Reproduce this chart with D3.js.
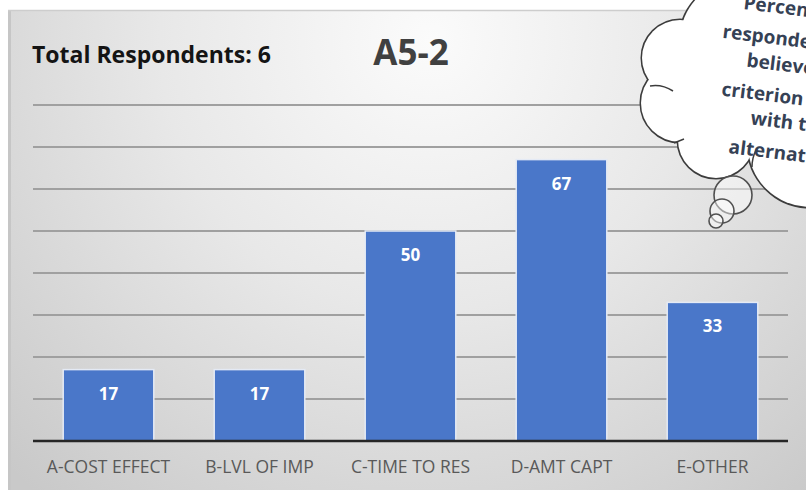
<!DOCTYPE html>
<html><head><meta charset="utf-8">
<script src="https://cdn.jsdelivr.net/npm/d3@7"></script>
<style>html,body{margin:0;padding:0;background:#fff}svg{display:block}</style>
</head><body>
<script>
// Survey item A5-2: share of respondents (%) per criterion
const categories = ["A-COST EFFECT", "B-LVL OF IMP", "C-TIME TO RES", "D-AMT CAPT", "E-OTHER"];
const values = [17, 17, 50, 67, 33];
const yTicks = [10, 20, 30, 40, 50, 60, 70, 80];
const totalLabel = "Total Respondents: 6";
const chartTitle = "A5-2";
const noteLines = ["Percentage of", "respondents who", "believe", "criterion fits", "with the", "alternatives"];

const W = 806, H = 490;
const plot = {left: 33, right: 788, top: 105, bottom: 441};

const svg = d3.select("body").append("svg").attr("width", W).attr("height", H);
const defs = svg.append("defs");

// chart-area background: soft grey radial shading
const bg = defs.append("radialGradient").attr("id", "bgGrad")
  .attr("gradientUnits", "userSpaceOnUse")
  .attr("cx", 430).attr("cy", 40).attr("r", 600);
bg.append("stop").attr("offset", 0).attr("stop-color", "#fbfbfb");
bg.append("stop").attr("offset", 0.45).attr("stop-color", "#e8e8e8");
bg.append("stop").attr("offset", 1).attr("stop-color", "#c9c9c9");

svg.append("rect").attr("x", 8).attr("y", 10).attr("width", W - 8).attr("height", H - 10)
  .attr("fill", "url(#bgGrad)");
svg.append("rect").attr("x", 8).attr("y", 10).attr("width", 3).attr("height", H - 10)
  .attr("fill", "#c6c6c6");
svg.append("line").attr("x1", 8).attr("x2", W).attr("y1", 10.5).attr("y2", 10.5)
  .attr("stroke", "#cdcdcd").attr("stroke-width", 1.5);

const x = d3.scaleBand().domain(categories).range([plot.left, plot.right])
  .paddingInner(0.4).paddingOuter(0.2);
const y = d3.scaleLinear().domain([0, 80]).range([plot.bottom, plot.top]);

// horizontal gridlines
svg.append("g").selectAll("line").data(yTicks).join("line")
  .attr("x1", plot.left).attr("x2", plot.right)
  .attr("y1", d => y(d)).attr("y2", d => y(d))
  .attr("stroke", "#a0a0a0").attr("stroke-width", 1.8);

// bars
svg.append("g").selectAll("rect").data(values).join("rect")
  .attr("x", (d, i) => x(categories[i]))
  .attr("y", d => y(d))
  .attr("width", x.bandwidth())
  .attr("height", d => y(0) - y(d))
  .attr("fill", "#4a77c9")
  .attr("stroke", "#e4eaf5").attr("stroke-width", 1.5);

// value labels inside bars
svg.append("g").selectAll("text").data(values).join("text")
  .attr("x", (d, i) => x(categories[i]) + x.bandwidth() / 2)
  .attr("y", d => y(d) + 30)
  .attr("text-anchor", "middle")
  .attr("font-family", "'Open Sans', sans-serif").attr("font-weight", 700)
  .attr("font-size", 17).attr("fill", "#ffffff")
  .text(d => d);

// category axis
const xAxis = svg.append("g").attr("transform", `translate(0,${plot.bottom})`)
  .call(d3.axisBottom(x).tickSize(0).tickPadding(0));
xAxis.select(".domain").remove();
xAxis.append("line").attr("x1", plot.left).attr("x2", plot.right)
  .attr("y1", 0).attr("y2", 0).attr("stroke", "#262626").attr("stroke-width", 2.5);
xAxis.selectAll(".tick text")
  .attr("y", 32).attr("dy", null)
  .attr("font-family", "'Open Sans', sans-serif").attr("font-size", 17.5)
  .attr("fill", "#595959");

// headings
svg.append("text").attr("x", 32).attr("y", 63)
  .attr("font-family", "'Open Sans', sans-serif").attr("font-weight", 700)
  .attr("font-size", 23).attr("fill", "#141414").text(totalLabel);
svg.append("text").attr("x", 411).attr("y", 65).attr("text-anchor", "middle")
  .attr("font-family", "'Open Sans', sans-serif").attr("font-weight", 700)
  .attr("font-size", 35).attr("fill", "#404040").text(chartTitle);

// thought-bubble callout built from overlapping lobes
const lobes = [
  {cx: 740, cy: 40, r: 60},
  {cx: 680, cy: 58, r: 38},
  {cx: 680, cy: 103, r: 39},
  {cx: 716, cy: 140, r: 38},
  {cx: 810, cy: 145, r: 62},
  {cx: 800, cy: 20, r: 60}
];
const cloud = svg.append("g");
cloud.selectAll("circle.edge").data(lobes).join("circle").attr("class", "edge")
  .attr("cx", d => d.cx).attr("cy", d => d.cy).attr("r", d => d.r)
  .attr("fill", "none").attr("stroke", "#3c3c3c").attr("stroke-width", 3);
cloud.selectAll("circle.fill").data(lobes).join("circle").attr("class", "fill")
  .attr("cx", d => d.cx).attr("cy", d => d.cy).attr("r", d => d.r)
  .attr("fill", "#ffffff");
cloud.append("circle").attr("cx", 765).attr("cy", 85).attr("r", 60).attr("fill", "#ffffff");
cloud.append("rect").attr("x", 705).attr("y", 0).attr("width", W - 705).attr("height", 150)
  .attr("fill", "#ffffff");
// small inner curls at the lobe joints
const curls = [
  "M650,86 Q662,84 673,91",
  "M674,143 Q679,141 684,139",
  "M752,167 Q752,158 756,150"
];
cloud.selectAll("path").data(curls).join("path").attr("d", d => d)
  .attr("fill", "none").attr("stroke", "#3c3c3c").attr("stroke-width", 1.5);

// trailing bubbles
const dots = [{cx: 733, cy: 195, r: 19}, {cx: 722, cy: 211, r: 12}, {cx: 716, cy: 221, r: 7}];
svg.append("g").selectAll("circle").data(dots).join("circle")
  .attr("cx", d => d.cx).attr("cy", d => d.cy).attr("r", d => d.r)
  .attr("fill", "#ffffff").attr("fill-opacity", 0.45)
  .attr("stroke", "#505050").attr("stroke-width", 1.6);

// callout text, slightly tilted and running past the right edge
const noteStart = [743, 722, 746, 721, 750, 728];
svg.append("g").selectAll("text").data(noteLines).join("text")
  .attr("transform", (d, i) => `translate(${noteStart[i]},${9 + i * 28.8}) rotate(7)`)
  .attr("font-family", "'Open Sans', sans-serif").attr("font-weight", 700)
  .attr("font-size", 19).attr("fill", "#354155")
  .text(d => d);
</script>
</body></html>
